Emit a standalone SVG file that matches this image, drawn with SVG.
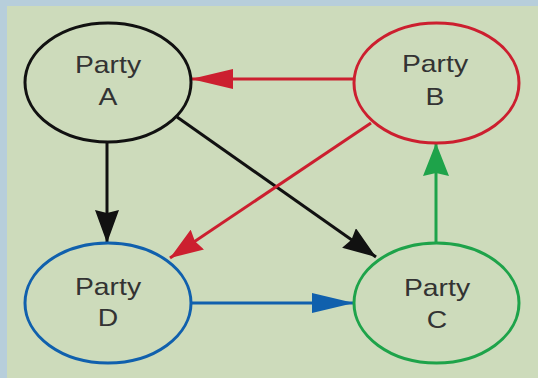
<svg xmlns="http://www.w3.org/2000/svg" width="538" height="378" viewBox="0 0 538 378">
<style>
.node ellipse{fill:none;stroke-width:3}
.lbl{font-family:"Liberation Sans",Arial,sans-serif;font-size:24px;fill:#333;text-anchor:middle}
.conn line{stroke-width:3;fill:none}
</style>
<defs>
<marker id="hBlack" markerUnits="userSpaceOnUse" orient="auto" markerWidth="34" markerHeight="24" refX="33" refY="12" viewBox="0 0 34 24"><path d="M0,0 L33,12 L0,24 L3,12 Z" fill="#111"/></marker>
<marker id="hRed" markerUnits="userSpaceOnUse" orient="auto" markerWidth="34" markerHeight="24" refX="33" refY="12" viewBox="0 0 34 24"><path d="M0,0 L33,12 L0,24 L3,12 Z" fill="#cc1f2f"/></marker>
<marker id="hGreen" markerUnits="userSpaceOnUse" orient="auto" markerWidth="34" markerHeight="26" refX="33" refY="13" viewBox="0 0 34 26"><path d="M0,0 L33,13 L0,26 L3,13 Z" fill="#1ea34a"/></marker>
<marker id="hRedL" markerUnits="userSpaceOnUse" orient="auto" markerWidth="43" markerHeight="20" refX="42" refY="10" viewBox="0 0 43 20"><path d="M0,0 L42,10 L0,20 Z" fill="#cc1f2f"/></marker>
<marker id="hBlueL" markerUnits="userSpaceOnUse" orient="auto" markerWidth="43" markerHeight="20" refX="42" refY="10" viewBox="0 0 43 20"><path d="M0,0 L42,10 L0,20 Z" fill="#1060ad"/></marker>
</defs>
<rect x="0" y="0" width="538" height="378" fill="#b7cedb"/>
<rect x="7" y="6" width="531" height="372" fill="#cddbbb"/>
<g id="connectors" class="conn">
<line x1="354" y1="79" x2="191" y2="79" stroke="#cc1f2f" marker-end="url(#hRedL)"/>
<line x1="107" y1="142" x2="107" y2="243" stroke="#111" marker-end="url(#hBlack)"/>
<line x1="177" y1="117" x2="376" y2="257" stroke="#111" marker-end="url(#hBlack)"/>
<line x1="371" y1="123" x2="170" y2="258" stroke="#cc1f2f" marker-end="url(#hRed)"/>
<line x1="191" y1="303" x2="354" y2="303" stroke="#1060ad" marker-end="url(#hBlueL)"/>
<line x1="436" y1="243" x2="436" y2="143" stroke="#1ea34a" marker-end="url(#hGreen)"/>
</g>
<g id="nodeA" class="node">
<ellipse cx="108" cy="82.5" rx="83" ry="59.5" stroke="#111"/>
<text class="lbl" transform="translate(108,73) scale(1.18,1)">Party</text>
<text class="lbl" transform="translate(108,105) scale(1.18,1)">A</text>
</g>
<g id="nodeB" class="node">
<ellipse cx="436.5" cy="83" rx="82.5" ry="60" stroke="#cc1f2f"/>
<text class="lbl" transform="translate(435,72) scale(1.18,1)">Party</text>
<text class="lbl" transform="translate(435,105) scale(1.18,1)">B</text>
</g>
<g id="nodeC" class="node">
<ellipse cx="436.5" cy="303" rx="82.5" ry="60" stroke="#1ea34a"/>
<text class="lbl" transform="translate(437,296) scale(1.18,1)">Party</text>
<text class="lbl" transform="translate(437,328) scale(1.18,1)">C</text>
</g>
<g id="nodeD" class="node">
<ellipse cx="108" cy="303" rx="83" ry="60" stroke="#1060ad"/>
<text class="lbl" transform="translate(108,295) scale(1.18,1)">Party</text>
<text class="lbl" transform="translate(108,326) scale(1.18,1)">D</text>
</g>
</svg>
